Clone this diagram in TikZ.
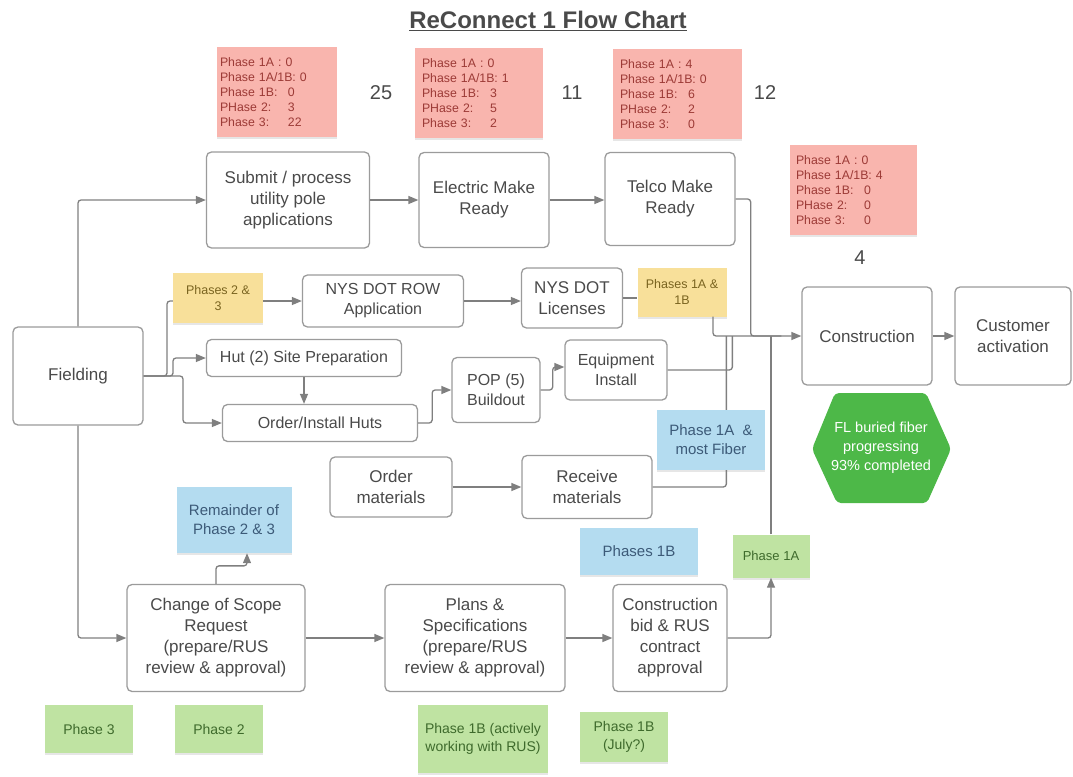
\documentclass[tikz,border=0pt]{standalone}
\usepackage{fontspec}
\setmainfont{Liberation Sans}
\usetikzlibrary{arrows.meta, shapes.geometric, shadows}
\definecolor{boxline}{HTML}{9B9B9B}
\definecolor{boxink}{HTML}{4A4A4A}
\definecolor{wireline}{HTML}{7F7F7F}
\definecolor{notepink}{HTML}{F9B5AE}
\definecolor{pinkink}{HTML}{9C3A36}
\definecolor{noteyellow}{HTML}{F8E09A}
\definecolor{yellowink}{HTML}{7A6420}
\definecolor{noteblue}{HTML}{B4DCF0}
\definecolor{blueink}{HTML}{3C5A78}
\definecolor{notegreen}{HTML}{BFE3A2}
\definecolor{greenink}{HTML}{3E6A2C}
\definecolor{hexgreen}{HTML}{4DB848}
\newcommand{\phrow}[2]{\makebox[68pt][l]{#1}#2}

\begin{document}
\begin{tikzpicture}[x=1pt, y=-1pt,
  stepbox/.style={draw=boxline, line width=1.3pt, rounded corners=5pt, fill=white,
    align=center, text=boxink, inner sep=2pt, font=\fontsize{17}{21}\selectfont},
  smallbox/.style={stepbox, font=\fontsize{16}{20}\selectfont},
  wh/.style 2 args={minimum width=#1pt, minimum height=#2pt},
  sticky/.style={align=center, inner sep=2pt,
    drop shadow={shadow xshift=0pt, shadow yshift=-2pt, opacity=0.2}},
  pinknote/.style={sticky, fill=notepink, text=pinkink, align=left, text width=114pt,
    minimum height=90pt, font=\fontsize{12.3}{15}\selectfont},
  yellownote/.style={sticky, fill=noteyellow, text=yellowink, font=\fontsize{12.5}{16}\selectfont},
  bluenote/.style={sticky, fill=noteblue, text=blueink, font=\fontsize{15}{19}\selectfont},
  greennote/.style={sticky, fill=notegreen, text=greenink, font=\fontsize{14}{18}\selectfont},
  count/.style={text=boxink, font=\fontsize{20}{24}\selectfont},
  link/.style={draw=wireline, line width=1.3pt, rounded corners=3pt, -{Triangle[length=10pt, width=8pt]}},
  wire/.style={draw=wireline, line width=1.3pt, rounded corners=3pt},
]
  \useasboundingbox (0,0) rectangle (1073,776);

  % Title
  \node[text=boxink, font=\fontsize{24}{28}\selectfont\bfseries] (title) at (548,21) {\underline{ReConnect 1 Flow Chart}};

  % Pole attachment row
  \node[stepbox, wh={163}{96}] (submit) at (288,200) {Submit / process\\utility pole\\applications};
  \node[stepbox, wh={130}{95}] (electric) at (484,200) {Electric Make\\Ready};
  \node[stepbox, wh={130}{93}] (telco) at (670,199) {Telco Make\\Ready};

  % Fielding and right-of-way row
  \node[stepbox, wh={130}{98}] (fielding) at (78,376) {Fielding};
  \node[smallbox, wh={161}{52}] (rowapp) at (383,301) {NYS DOT ROW\\Application};
  \node[stepbox, wh={101}{60}] (licenses) at (572,298) {NYS DOT\\Licenses};

  % Huts and POP
  \node[smallbox, wh={195}{37}] (hutprep) at (304,358) {Hut (2) Site Preparation};
  \node[smallbox, wh={195}{37}] (huts) at (320,423) {Order/Install Huts};
  \node[smallbox, wh={88}{65}] (pop) at (496,390) {POP (5)\\Buildout};
  \node[smallbox, wh={102}{60}] (equip) at (616,370) {Equipment\\Install};

  % Materials
  \node[stepbox, wh={122}{60}] (ordermat) at (391,487) {Order\\materials};
  \node[stepbox, wh={130}{63}] (receive) at (587,487) {Receive\\materials};

  % Construction and activation
  \node[stepbox, wh={130}{98}] (construct) at (867,336) {Construction};
  \node[stepbox, wh={116}{98}] (customer) at (1013,336) {Customer\\activation};

  % Approvals row
  \node[stepbox, wh={178}{107}] (scope) at (216,638) {Change of Scope\\Request\\(prepare/RUS\\review \& approval)};
  \node[stepbox, wh={180}{107}] (plans) at (475,638) {Plans \&\\Specifications\\(prepare/RUS\\review \& approval)};
  \node[stepbox, wh={114}{107}] (bid) at (670,638) {Construction\\bid \& RUS\\contract\\approval};

  % Connectors
  \draw[link] (fielding.north) |- (submit.west);
  \draw[link] (fielding.south) |- (scope.west);
  \draw[link] (submit.east) -- (electric.west);
  \draw[link] (electric.east) -- (electric.east -| telco.west);
  \draw[link] (fielding.east) -- (173,376) |- (hutprep.west);
  \draw[link] (fielding.east) -- (183,376) |- (huts.west);
  \draw[link] (hutprep.south) -- (hutprep.south |- huts.north);
  \draw[link] (huts.east) -- ++(14,0) |- (pop.west);
  \draw[link] (pop.east) -- ++(12,0) |- ([yshift=3pt]equip.west);
  \draw[link] (rowapp.east) -- (rowapp.east -| licenses.west);
  \draw[wire] (telco.east) -- ++(15,0) |- ([xshift=-20pt]construct.west);
  \draw[wire] (equip.east) -| ([xshift=-69pt]construct.west);
  \draw[wire] (receive.east) -| ([xshift=-75pt]construct.west);
  \draw[link] (ordermat.east) -- (receive.west);
  \draw[link] (construct.east) -- (customer.west);
  \draw[link] (scope.east) -- (plans.west);
  \draw[link] (plans.east) -- (bid.west);

  % Phase counts (pink notes)
  \node[pinknote, minimum width=120pt] (cntsubmit) at (277,92)
    {Phase 1A : 0\\Phase 1A/1B: 0\\\phrow{Phase 1B:}{0}\\\phrow{PHase 2:}{3}\\\phrow{Phase 3:}{22}};
  \node[pinknote, minimum width=128pt] (cntelectric) at (479,93)
    {Phase 1A : 0\\Phase 1A/1B: 1\\\phrow{Phase 1B:}{3}\\\phrow{PHase 2:}{5}\\\phrow{Phase 3:}{2}};
  \node[pinknote, minimum width=129pt] (cnttelco) at (677,94)
    {Phase 1A : 4\\Phase 1A/1B: 0\\\phrow{Phase 1B:}{6}\\\phrow{PHase 2:}{2}\\\phrow{Phase 3:}{0}};
  \node[pinknote, minimum width=127pt] (cntconst) at (853,190)
    {Phase 1A : 0\\Phase 1A/1B: 4\\\phrow{Phase 1B:}{0}\\\phrow{PHase 2:}{0}\\\phrow{Phase 3:}{0}};
  \node[count] (totsubmit) at (381,93) {25};
  \node[count] (totelectric) at (572,93) {11};
  \node[count] (tottelco) at (765,93) {12};
  \node[count] (totconst) at (860,258) {4};

  % Phase notes
  \node[yellownote, wh={90}{50}] (ph23) at (218,298) {Phases 2 \&\\3};
  \node[yellownote, wh={89}{49}] (ph1ab) at (682,292) {Phases 1A \&\\1B};
  \node[bluenote, wh={108}{60}] (mostfiber) at (711,440) {Phase 1A\ \ \&\\most Fiber};
  \node[bluenote, wh={115}{66}] (remainder) at (234,520) {Remainder of\\Phase 2 \& 3};
  \node[bluenote, wh={118}{47}] (ph1bblue) at (639,551) {Phases 1B};
  \node[greennote, wh={77}{43}, font=\fontsize{13}{17}\selectfont] (ph1agreen) at (771,556) {Phase 1A};
  \node[greennote, wh={88}{48}] (ph3) at (89,729) {Phase 3};
  \node[greennote, wh={88}{48}] (ph2) at (219,729) {Phase 2};
  \node[greennote, wh={130}{68}] (ph1brus) at (483,739) {Phase 1B (actively\\working with RUS)};
  \node[greennote, wh={88}{50}] (ph1bjuly) at (624,737) {Phase 1B\\(July?)};

  % Connectors to the notes
  \draw[wire] (fielding.east) -- (167,376) |- (ph23.west |- rowapp.west);
  \draw[link] (ph23.east |- rowapp.west) -- (rowapp.west);
  \draw[wire] (licenses.east) -- (licenses.east -| ph1ab.west);
  \draw[link] ([xshift=31pt]ph1ab.south) |- (construct.west);
  \draw[link] (scope.north) -- ++(0,-18) -| ([xshift=13pt]remainder.south);
  \draw[link] (bid.east) -| (ph1agreen.south);
  \draw[wire] (ph1agreen.north) -- (ph1agreen.north |- construct.west);

  % Progress badge
  \fill[hexgreen, rounded corners=4pt] (812,449) -- (835,393) -- (926,393) -- (951,449) -- (927,503) -- (837,503) -- cycle;
  \node[text=white, align=center, font=\fontsize{14.5}{19}\selectfont] (progress) at (881,448) {FL buried fiber\\progressing\\93\% completed};
\end{tikzpicture}
\end{document}
